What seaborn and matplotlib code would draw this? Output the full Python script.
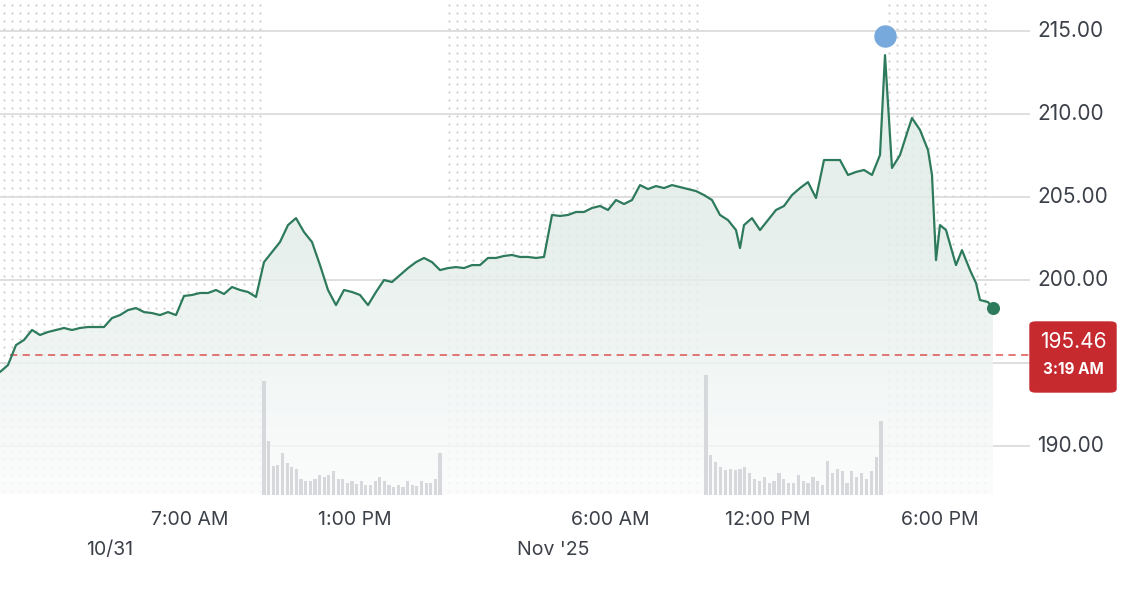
import numpy as np
import matplotlib.pyplot as plt
import seaborn as sns
from matplotlib.patches import FancyBboxPatch

sns.set_theme(style="white")
plt.rcParams['font.family'] = ['Inter', 'DejaVu Sans']

# session-adjusted time slots (chart units) and prices
t = [0, 8, 16, 24, 32, 40, 48, 56, 64, 72, 80, 88, 96, 104, 112, 120, 128, 136,
     144, 152, 160, 168, 176, 184, 192, 200, 208, 216, 224, 232, 240, 248, 256,
     264, 272, 280, 288, 296, 304, 312, 320, 328, 336, 344, 352, 360, 368, 376,
     384, 392, 400, 408, 416, 424, 432, 440, 448, 456, 464, 472, 480, 488, 496,
     504, 512, 520, 528, 536, 544, 552, 560, 568, 576, 584, 592, 600, 608, 616,
     624, 632, 640, 648, 656, 664, 672, 680, 688, 696, 704, 712, 720, 728, 736,
     740, 744, 752, 760, 768, 776, 784, 792, 800, 808, 816, 824, 832, 840, 848,
     856, 864, 872, 880, 885, 892, 900, 908, 912, 920, 928, 932, 936, 940, 946,
     956, 962, 970, 976, 980, 988, 993]
price = [194.46, 194.88, 196.08, 196.39, 196.99, 196.69, 196.87, 196.99, 197.11,
         196.99, 197.11, 197.17, 197.17, 197.17, 197.71, 197.89, 198.19, 198.31,
         198.07, 198.01, 197.89, 198.07, 197.89, 199.04, 199.10, 199.22, 199.22,
         199.40, 199.16, 199.58, 199.40, 199.28, 198.98, 201.08, 201.69, 202.29,
         203.31, 203.73, 202.89, 202.29, 200.90, 199.40, 198.49, 199.40, 199.28,
         199.10, 198.49, 199.28, 200.00, 199.88, 200.30, 200.72, 201.08, 201.33,
         201.08, 200.60, 200.72, 200.78, 200.72, 200.90, 200.90, 201.33, 201.33,
         201.45, 201.51, 201.39, 201.39, 201.33, 201.39, 203.92, 203.86, 203.92,
         204.10, 204.10, 204.34, 204.46, 204.22, 204.82, 204.58, 204.82, 205.72,
         205.48, 205.66, 205.54, 205.72, 205.60, 205.48, 205.36, 205.12, 204.82,
         203.92, 203.61, 203.01, 201.93, 203.31, 203.73, 203.01, 203.61, 204.22,
         204.46, 205.12, 205.54, 205.90, 204.94, 207.23, 207.23, 207.23, 206.33,
         206.51, 206.63, 206.33, 207.53, 213.55, 206.75, 207.53, 209.04, 209.76,
         209.04, 207.83, 206.33, 201.20, 203.31, 203.01, 200.90, 201.80, 200.60,
         199.82, 198.80, 198.67, 198.31]

# volume bars (relative units) for the two regular sessions
vol1 = [114, 54, 29, 30, 42, 32, 28, 26, 16, 14, 14, 16, 20, 18, 20, 24, 16, 16,
        12, 14, 11, 14, 10, 10, 14, 18, 14, 10, 8, 10, 8, 14, 10, 9, 14, 12, 12,
        16, 42]
vol2 = [120, 40, 33, 28, 25, 26, 25, 26, 28, 22, 16, 14, 18, 12, 14, 22, 16, 12,
        12, 20, 14, 12, 18, 14, 10, 34, 22, 26, 24, 12, 24, 18, 22, 16, 24, 38, 74]
sess1 = (264, 440)
sess2 = (706, 881)

ext_bands = [(0, 262), (445, 705), (885, 993)]
prev_close = 195.46
high_t, high_p = 885, 214.7
yticks = [190, 195, 200, 205, 210, 215]
xtick_pos = [190, 355, 610, 768, 940]
xtick_lab = ['7:00 AM', '1:00 PM', '6:00 AM', '12:00 PM', '6:00 PM']

green = '#2e7a5c'
red = '#c62a2f'
text_c = '#3c4048'

fig = plt.figure(figsize=(11.48, 5.96), dpi=100)
ax = fig.add_axes([0, 1 - 495 / 596, 1030 / 1148, 495 / 596])
ax.set_xlim(0, 1030)
ax.set_ylim(187.05, 216.87)

# dotted background for extended-hours bands
for a, b in ext_bands:
    gx, gy = np.meshgrid(np.arange(a + 4, b, 8), np.arange(187.3, 216.8, 0.48))
    ax.scatter(gx.ravel(), gy.ravel(), s=2.5, color='#cfcfcf', lw=0, zorder=0)

# gridlines
for y in yticks:
    ax.axhline(y, color='#dcdcdc', lw=1.3, zorder=1)

# gradient fill under the line
grad = np.linspace(0, 1, 256).reshape(-1, 1)
img = ax.imshow(grad, extent=[0, 1030, 187.05, 216.87], aspect='auto',
                cmap=sns.blend_palette(['#fbfcfc', '#e2ede9', '#dde9e5'], as_cmap=True),
                origin='lower', zorder=1.5, alpha=0.8)
poly = ax.fill_between(t, price, 187.05, color='none', lw=0)
img.set_clip_path(poly.get_paths()[0], transform=ax.transData)

# volume bars
vax = ax.twinx()
vax.set_ylim(0, 495)
vax.axis('off')
for (a, b), v in zip([sess1, sess2], [vol1, vol2]):
    xs = np.linspace(a, b, len(v))
    vax.bar(xs, v, width=3.2, color='#d6d8dc', lw=0, zorder=2)

sns.lineplot(x=t, y=price, ax=ax, color=green, lw=1.6, zorder=4)
ax.scatter([t[-1]], [price[-1]], s=70, color=green, zorder=5)
ax.scatter([high_t], [high_p], s=230, color='#78a9dc', zorder=5)
ax.plot([10, 1030], [prev_close, prev_close], ls=(0, (4, 3)), color='#e06b6b', lw=1.3, zorder=3)

ax.set_yticks([])
ax.set_xticks([])
for s in ax.spines.values():
    s.set_visible(False)

for y in yticks:
    if y == 195:
        continue
    fig.text(1037 / 1148, 1 - (31 + (215 - y) * 16.6) / 596, f'{y:.2f}',
             fontsize=15, color=text_c, va='center', ha='left')

box = FancyBboxPatch((1030 / 1148, 1 - 392 / 596), 86 / 1148, 70 / 596,
                     boxstyle='round,pad=0,rounding_size=0.005', transform=fig.transFigure,
                     color=red, zorder=6)
fig.patches.append(box)
fig.text(1073 / 1148, 1 - 342 / 596, f'{prev_close:.2f}', color='white', fontsize=15,
         ha='center', va='center', zorder=10)
fig.text(1073 / 1148, 1 - 369 / 596, '3:19 AM', color='white', fontsize=11,
         ha='center', va='center', fontweight='bold', zorder=10)

for x, lab in zip(xtick_pos, xtick_lab):
    fig.text(x / 1148, 1 - 520 / 596, lab, fontsize=14, color=text_c, ha='center', va='center')
fig.text(110 / 1148, 1 - 550 / 596, '10/31', fontsize=14, color=text_c, ha='center', va='center')
fig.text(553 / 1148, 1 - 550 / 596, "Nov '25", fontsize=14, color=text_c, ha='center', va='center')

fig.savefig('out.png', dpi=100)
